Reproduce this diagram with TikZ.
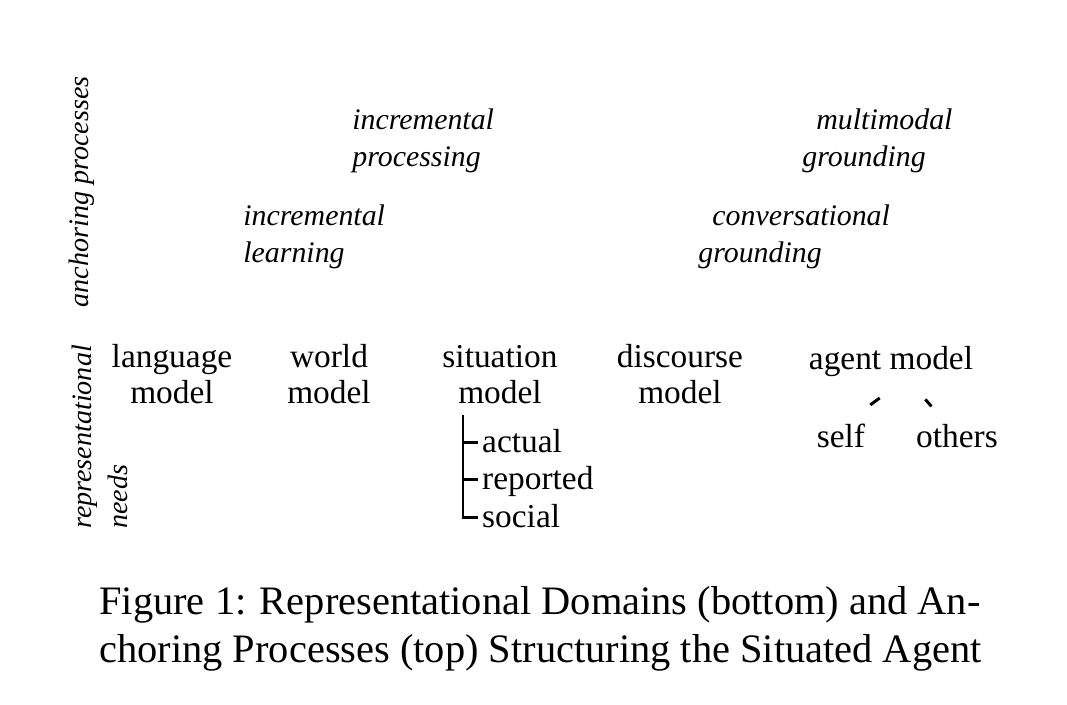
\documentclass[tikz,border=0pt]{standalone}
\usepackage{fontspec}
\setmainfont{Liberation Serif}
\usepackage{tikz}
\usetikzlibrary{positioning, calc}

\begin{document}
\begin{tikzpicture}[x=1cm, y=1cm]
        % Define styles
        \tikzstyle{repnode} = [align=center, anchor=base, font=\fontsize{9.5}{10.3}\selectfont]
        \tikzstyle{anchornode} = [align=left, anchor=west, font=\fontsize{8.5}{10.5}\selectfont\itshape]
        \tikzstyle{axislabel} = [rotate=90, align=left, font=\fontsize{8}{10.2}\selectfont\itshape]
        \tikzstyle{subnode} = [anchor=west, inner sep=1pt, text height=1.6ex, text depth=0.4ex, font=\fontsize{9.5}{10.3}\selectfont]
        \tikzstyle{branch} = [draw, line width=0.85pt]

        \useasboundingbox (0,0) rectangle (10.67,7.05);

        % Axis labels
        \node [axislabel] (anchoring) at (0.82, 5.13) {anchoring processes};
        \node [axislabel] (needs) at (1.00, 2.68) {representational\\needs};

        % Anchoring processes
        \node [anchornode] (processing) at (3.40, 5.64) {incremental\\processing};
        \node [anchornode] (learning) at (2.31, 4.68) {incremental\\learning};
        \node [anchornode] (multimodal) at (7.90, 5.64) {\hspace*{0.14cm}multimodal\\grounding};
        \node [anchornode] (conversational) at (6.86, 4.68) {\hspace*{0.14cm}conversational\\grounding};

        % Representational domains
        \node [repnode] (language) at (1.72, 3.01) {language\\model};
        \node [repnode] (world) at (3.29, 3.01) {world\\model};
        \node [repnode] (situation) at (5.00, 3.01) {situation\\model};
        \node [repnode] (discourse) at (6.80, 3.01) {discourse\\model};
        \node [repnode] (agent) at (8.91, 3.35) {agent model};
        \node [repnode] (self) at (8.41, 2.57) {self};
        \node [repnode] (others) at (9.57, 2.57) {others};

        % Situation sub-models
        \node [subnode] (actual) at (4.78, 2.62) {actual};
        \node [subnode] (reported) at (4.78, 2.25) {reported};
        \node [subnode] (social) at (4.78, 1.87) {social};
        \coordinate (bar) at (4.63, 2.90);

        % Paths
        \path [branch] (bar) |- (actual.west);
        \path [branch] (bar) |- (reported.west);
        \path [branch] (bar) |- (social.west);
        \path [branch, shorten <=0.14cm, shorten >=0.12cm] (agent.south) -- (self.51);
        \path [branch, shorten <=0.13cm, shorten >=0.08cm] (agent.-47) -- (others.130);

        % Caption
        \node [anchor=west, align=left, font=\fontsize{11.5}{13.7}\selectfont] (caption) at (0.87, 0.76)
            {Figure 1: Representational Domains (bottom) and An-\\choring Processes (top) Structuring the Situated Agent};

    \end{tikzpicture}
\end{document}
